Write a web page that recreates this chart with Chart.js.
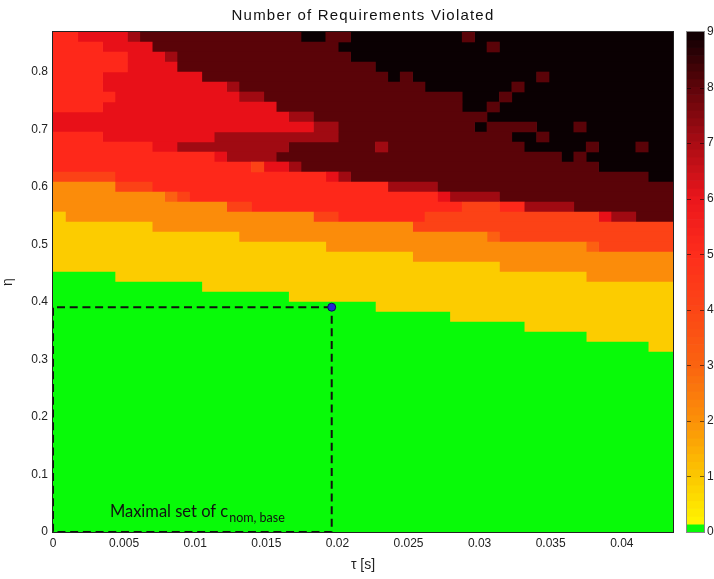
<!DOCTYPE html>
<html>
<head>
<meta charset="utf-8">
<script src="https://cdn.jsdelivr.net/npm/chart.js@4.4.1/dist/chart.umd.min.js"></script>
<style>
  html, body { margin: 0; padding: 0; background: #fff; }
  #wrap { position: relative; width: 714px; height: 579px; }
  #heat { position: absolute; left: 0; top: 0; }
  #cbar { position: absolute; left: 666px; top: 0; }
</style>
</head>
<body>
<div id="wrap">
  <canvas id="heat" width="714" height="579"></canvas>
  <canvas id="cbar" width="48" height="579"></canvas>
</div>
<script>
// grid extent (tau [s] along x, eta along y), 50 x 50 cells
const tauMax = 0.0436;
const etaMax = 0.8696;
const nCols = 50;

const xTicks = [0, 0.005, 0.01, 0.015, 0.02, 0.025, 0.03, 0.035, 0.04];
const xTickLabels = ['0', '0.005', '0.01', '0.015', '0.02', '0.025', '0.03', '0.035', '0.04'];
const yTicks = [0, 0.1, 0.2, 0.3, 0.4, 0.5, 0.6, 0.7, 0.8];
const yTickLabels = ['0', '0.1', '0.2', '0.3', '0.4', '0.5', '0.6', '0.7', '0.8'];
const cbTicks = [0, 1, 2, 3, 4, 5, 6, 7, 8, 9];

// requirements violated, one entry per grid row from the top (eta high) down,
// each row as [value, number of cells] runs along tau
const rowRuns = [
  [[5,2],[6,4],[7,1],[8,13],[9,2],[8,2],[9,9],[8,1],[9,16]],
  [[5,4],[6,4],[8,15],[9,12],[8,1],[9,14]],
  [[5,6],[6,3],[7,1],[8,14],[9,26]],
  [[5,6],[6,4],[8,16],[9,24]],
  [[5,4],[6,8],[8,15],[9,1],[8,1],[9,10],[8,1],[9,10]],
  [[5,4],[6,10],[7,1],[8,15],[9,7],[8,1],[9,12]],
  [[5,5],[6,10],[7,2],[8,16],[9,3],[8,1],[9,13]],
  [[5,4],[6,14],[8,15],[9,2],[8,1],[9,14]],
  [[6,19],[7,2],[8,14],[9,15]],
  [[6,21],[7,2],[8,11],[9,1],[8,4],[9,3],[8,1],[9,7]],
  [[5,4],[6,9],[7,10],[8,14],[9,2],[8,1],[9,10]],
  [[5,8],[6,2],[7,9],[8,7],[7,1],[8,11],[9,5],[8,1],[9,3],[8,1],[9,2]],
  [[5,13],[6,1],[7,4],[8,23],[9,1],[8,1],[9,7]],
  [[5,16],[4,1],[6,2],[7,1],[8,24],[9,6]],
  [[4,5],[5,17],[6,1],[7,1],[8,24],[9,2]],
  [[2,5],[4,3],[5,19],[7,4],[8,19]],
  [[2,9],[3,1],[4,1],[5,20],[6,1],[7,4],[8,14]],
  [[2,14],[4,2],[5,17],[4,3],[5,2],[7,4],[8,8]],
  [[1,1],[2,20],[4,2],[5,7],[4,14],[6,1],[7,2],[8,3]],
  [[1,8],[2,21],[4,21]],
  [[1,15],[2,20],[3,1],[4,14]],
  [[1,22],[2,21],[3,1],[4,6]],
  [[1,29],[2,21]],
  [[1,36],[2,14]],
  [[0,5],[1,38],[2,7]],
  [[0,12],[1,38]],
  [[0,19],[1,31]],
  [[0,26],[1,24]],
  [[0,32],[1,18]],
  [[0,38],[1,12]],
  [[0,43],[1,7]],
  [[0,48],[1,2]],
  [[0,50]], [[0,50]], [[0,50]], [[0,50]], [[0,50]], [[0,50]],
  [[0,50]], [[0,50]], [[0,50]], [[0,50]], [[0,50]], [[0,50]],
  [[0,50]], [[0,50]], [[0,50]], [[0,50]], [[0,50]], [[0,50]]
];

// colour of each value 0..9
const levelColors = [
  'rgb(8,250,8)', 'rgb(252,204,0)', 'rgb(251,140,10)', 'rgb(252,96,18)', 'rgb(252,66,22)',
  'rgb(254,40,26)', 'rgb(232,16,24)', 'rgb(160,10,18)', 'rgb(90,3,8)', 'rgb(10,0,2)'
];
// colormap stops for the colour bar
const cbStops = [
  [0.14, [255,245,0]], [1, [252,200,0]], [2, [251,145,8]], [3, [250,100,16]], [4, [252,70,22]],
  [5, [254,45,28]], [6, [235,22,28]], [7, [170,12,20]], [8, [95,4,10]], [9, [12,0,3]]
];
const cbBands = 64;

// maximal nominal set corner
const cnomTau = 0.0196;
const cnomEta = 0.391;

const titleText = 'Number of Requirements Violated';
const tickFont = { family: '"Liberation Sans", Arial, sans-serif', size: 12 };

// build one bar dataset per value; every run is a floating horizontal bar
const dTau = tauMax / nCols;
const dEta = etaMax / rowRuns.length;
const cells = levelColors.map(() => []);
rowRuns.forEach((runs, i) => {
  const eta = etaMax - (i + 0.5) * dEta;
  let c = 0;
  runs.forEach(([v, n]) => {
    cells[v].push({ y: eta, x: [c * dTau, (c + n) * dTau] });
    c += n;
  });
});

const heatSets = cells.map((data, v) => ({
  type: 'bar',
  label: String(v),
  data: data,
  indexAxis: 'y',
  backgroundColor: levelColors[v],
  borderWidth: 0,
  barPercentage: 1,
  categoryPercentage: 1,
  grouped: false,
  order: 3
}));

const boxSet = {
  type: 'line',
  indexAxis: 'x',
  data: [{x: cnomTau, y: cnomEta}, {x: 0, y: cnomEta}, {x: 0, y: 0}, {x: cnomTau, y: 0}, {x: cnomTau, y: cnomEta}],
  borderColor: '#111',
  borderWidth: 2,
  borderDash: [8, 4.7],
  pointRadius: 0,
  fill: false,
  tension: 0,
  order: 1
};
const pointSet = {
  type: 'line',
  indexAxis: 'x',
  data: [{x: cnomTau, y: cnomEta}],
  showLine: false,
  pointRadius: 4,
  pointBackgroundColor: '#2323d8',
  pointBorderColor: '#0c0c55',
  pointBorderWidth: 1,
  order: 0
};

const decorPlugin = {
  id: 'decor',
  afterDatasetsDraw(chart) {
    const { ctx, scales } = chart;
    ctx.save();
    // label of the dashed box
    const tx = scales.x.getPixelForValue(0.004);
    const ty = scales.y.getPixelForValue(0.026);
    ctx.fillStyle = '#111';
    ctx.textBaseline = 'alphabetic';
    ctx.font = '16.5px Lato, "Open Sans", sans-serif';
    ctx.fillText('Maximal set of c', tx, ty);
    const w = ctx.measureText('Maximal set of c').width;
    ctx.font = '12.5px Lato, "Open Sans", sans-serif';
    ctx.fillText('nom, base', tx + w + 1, ty + 4.5);
    ctx.restore();
  },
  afterDraw(chart) {
    const { ctx, chartArea: a } = chart;
    ctx.save();
    ctx.strokeStyle = '#222';
    ctx.lineWidth = 1;
    ctx.strokeRect(a.left - 0.5, a.top - 0.5, a.right - a.left + 1, a.bottom - a.top + 1);
    ctx.font = '15px "Liberation Sans", Arial, sans-serif';
    ctx.letterSpacing = '1.2px';
    ctx.fillStyle = '#111';
    ctx.textAlign = 'center';
    ctx.textBaseline = 'alphabetic';
    ctx.fillText(titleText, (a.left + a.right) / 2, 20);
    ctx.restore();
  }
};

new Chart(document.getElementById('heat'), {
  type: 'bar',
  data: { datasets: [pointSet, boxSet].concat(heatSets) },
  options: {
    responsive: false,
    animation: false,
    devicePixelRatio: 1,
    events: [],
    indexAxis: 'y',
    layout: { padding: { left: 0, right: 41, top: 32, bottom: 0 } },
    plugins: { legend: { display: false }, tooltip: { enabled: false }, title: { display: false } },
    scales: {
      x: {
        type: 'linear', position: 'bottom', min: 0, max: tauMax, offset: false,
        grid: { display: false, drawTicks: false, offset: false }, border: { display: false },
        afterBuildTicks: s => { s.ticks = xTicks.map(v => ({ value: v })); },
        afterFit: s => { s.height = 47; },
        ticks: { callback: (v, i) => xTickLabels[i], padding: 4, font: tickFont, color: '#222', maxRotation: 0, autoSkip: false },
        title: { display: true, text: 'τ [s]', font: { family: tickFont.family, size: 14 }, color: '#222', padding: { top: 0, bottom: 5 } }
      },
      y: {
        type: 'linear', position: 'left', min: 0, max: etaMax, offset: false,
        grid: { display: false, drawTicks: false, offset: false }, border: { display: false },
        afterBuildTicks: s => { s.ticks = yTicks.map(v => ({ value: v })); },
        afterFit: s => { s.width = 53; },
        ticks: { callback: (v, i) => yTickLabels[i], padding: 5, font: tickFont, color: '#222', autoSkip: false },
        title: { display: true, text: 'η', font: { family: tickFont.family, size: 14 }, color: '#222', padding: { top: 0, bottom: 0 } }
      }
    }
  },
  plugins: [decorPlugin]
});

// colour bar
function cmap(v) {
  let i = 1;
  while (i < cbStops.length - 1 && cbStops[i][0] < v) i++;
  const [v0, c0] = cbStops[i - 1];
  const [v1, c1] = cbStops[i];
  const t = Math.max(0, Math.min(1, (v - v0) / (v1 - v0)));
  return 'rgb(' + c0.map((c, k) => Math.round(c + (c1[k] - c) * t)).join(',') + ')';
}
const cbStep = 9 / cbBands;
const bands = [];
for (let k = 0; k < cbBands; k++) {
  bands.push({ lo: k * cbStep, hi: (k + 1) * cbStep, color: k === 0 ? levelColors[0] : cmap((k + 0.5) * cbStep) });
}

const cbPlugin = {
  id: 'cbDecor',
  afterDatasetsDraw(chart) {
    const { ctx, chartArea: a, scales } = chart;
    ctx.save();
    ctx.strokeStyle = 'rgba(0,0,0,0.55)';
    ctx.lineWidth = 1;
    ctx.beginPath();
    cbTicks.slice(1, -1).forEach(v => {
      const py = Math.round(scales.y.getPixelForValue(v)) + 0.5;
      ctx.moveTo(a.left, py); ctx.lineTo(a.left + 4, py);
      ctx.moveTo(a.right - 4, py); ctx.lineTo(a.right, py);
    });
    ctx.stroke();
    ctx.strokeStyle = '#888';
    ctx.strokeRect(a.left - 0.5, a.top - 0.5, a.right - a.left + 1, a.bottom - a.top + 1);
    ctx.restore();
  }
};

new Chart(document.getElementById('cbar'), {
  type: 'bar',
  data: {
    labels: ['cb'],
    datasets: [{
      data: bands.map(b => ({ x: 'cb', y: [b.lo, b.hi] })),
      backgroundColor: bands.map(b => b.color),
      borderWidth: 0,
      barPercentage: 1,
      categoryPercentage: 1
    }]
  },
  options: {
    responsive: false,
    animation: false,
    devicePixelRatio: 1,
    events: [],
    layout: { padding: { left: 21, right: 0, top: 32, bottom: 47 } },
    plugins: { legend: { display: false }, tooltip: { enabled: false } },
    scales: {
      x: { display: false },
      y: {
        position: 'right', min: 0, max: 9,
        grid: { display: false, drawTicks: false }, border: { display: false },
        afterBuildTicks: s => { s.ticks = cbTicks.map(v => ({ value: v })); },
        afterFit: s => { s.width = 10; },
        ticks: { padding: 3, font: tickFont, color: '#222', autoSkip: false }
      }
    }
  },
  plugins: [cbPlugin]
});
</script>
</body>
</html>
